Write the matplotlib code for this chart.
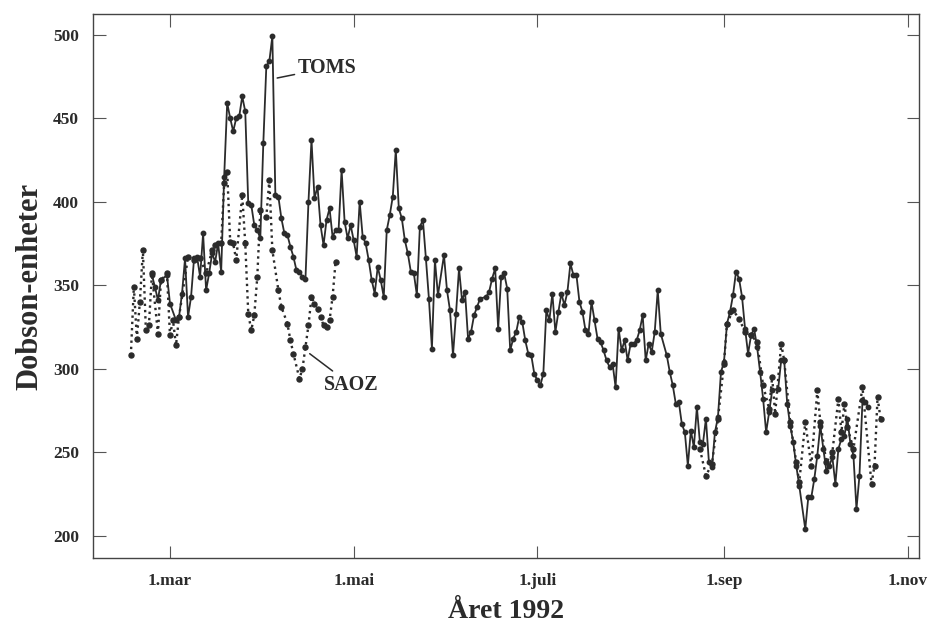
import matplotlib
matplotlib.use('Agg')
import matplotlib.pyplot as plt
import matplotlib.dates as mdates
from datetime import datetime, timedelta

plt.rcParams['font.family'] = ['Liberation Serif', 'DejaVu Serif']
plt.rcParams['font.weight'] = 'bold'

# total ozone 1992, day of year -> Dobson units
toms_day = [55, 56, 57, 58, 60, 61, 63, 64, 65, 66, 67, 68, 69, 70, 71, 72, 73, 74, 75, 76, 77, 78, 79,
            80, 81, 82, 83, 84, 85, 86, 87, 88, 89, 90, 91, 92, 93, 94, 95, 96, 97, 98, 99, 100,
            101, 102, 103, 104, 105, 106, 107, 108, 109, 110, 111, 112, 113, 114, 115, 116, 117,
            118, 119, 120, 121, 122, 123, 124, 125, 126, 127, 128, 129, 130, 131, 132, 133, 134,
            135, 136, 137, 138, 139, 140, 141, 142, 143,
            144, 145, 146, 147, 148, 149, 150, 152, 153, 154, 155, 156, 157, 158, 159, 160, 161,
            162, 163, 164, 166, 167, 168, 169, 170, 171, 172, 173, 174, 175, 176, 177, 178, 179,
            180, 181, 182, 183, 184, 185, 186, 187, 188, 189, 190, 191, 192, 193, 194, 195, 196,
            197, 198, 199, 200, 201, 202, 203, 204, 205, 206, 207, 208, 209, 210, 211, 212, 213,
            214, 215, 216, 217, 218, 219, 220, 221, 222, 223, 224, 226, 227, 228, 229, 230, 231,
            232, 233, 234, 235, 236, 237, 238, 239, 240, 241, 242, 243, 244, 245, 246, 247, 248,
            249, 250, 251, 252, 253, 254, 255, 256, 257, 258, 259, 260, 261, 263, 264, 265, 266,
            267, 268, 269, 270, 272, 273, 274, 275, 276, 277, 278, 279, 280, 281, 282, 283, 284,
            285, 286, 287, 288, 289, 290, 291, 292, 293]
toms_val = [356, 349, 341, 353, 356, 339, 329, 331, 345, 366, 331, 343, 366, 367, 355, 381, 347, 357, 369, 364, 375, 358, 415,
            459, 450, 442, 450, 451, 463, 454, 399, 398, 386, 383, 378, 435, 481, 484, 499, 404, 403, 390, 381, 380,
            373, 367, 359, 358, 355, 354, 400, 437, 402, 409, 386, 374, 389, 396, 379, 383, 383,
            419, 388, 378, 386, 377, 367, 400, 379, 375, 365, 353, 345, 361, 353, 343, 383, 392,
            403, 431, 396, 390, 377, 369, 358, 357, 344,
            385, 389, 366, 342, 312, 365, 344, 368, 347, 335, 308, 333, 360, 341, 346, 318, 322,
            332, 337, 342, 343, 346, 354, 360, 324, 355, 357, 348, 311, 318, 322, 331, 328, 317,
            309, 308, 297, 293, 290, 297, 335, 329, 345, 322, 334, 345, 338, 346, 363, 356, 356,
            340, 334, 323, 321, 340, 329, 318, 316, 311, 305, 301, 303, 289, 324, 311, 317, 305,
            315, 315, 317, 323, 332, 305, 315, 310, 322, 347, 321, 308, 298, 290, 279, 280, 267,
            262, 242, 263, 253, 277, 256, 255, 270, 244, 241, 262, 271, 298, 304, 327, 334, 344,
            358, 354, 343, 324, 309, 320, 324, 313, 298, 282, 262, 274, 287, 288, 305, 305, 279,
            266, 256, 242, 230, 204, 223, 223, 234, 248, 266, 252, 239, 242, 247, 231, 252, 258,
            260, 270, 255, 248, 216, 236, 281, 280, 277]

saoz_day = [48, 49, 50, 51, 52, 53, 54, 55, 57, 58, 60, 61, 62, 63, 64, 67, 69, 71, 73, 75, 76, 78, 79,
            80, 81, 82, 83, 85, 86, 87, 88, 89, 90, 91, 93, 94, 95, 97, 98, 100, 101, 102, 104,
            105, 106, 107, 108, 109, 110, 111, 112, 113, 114, 115, 116,
            None,
            237, 239, 241, 243, 245, 246, 248, 250, 252, 254, 256, 258, 260, 261, 262, 264, 265,
            267, 269, 270, 272, 274, 276, 277, 279, 281, 283, 284, 285, 286, 288, 291, 294, 295,
            296, 297]
saoz_val = [308, 349, 318, 340, 371, 323, 326, 357, 321, 353, 357, 320, 329, 314, 331, 367, 365, 366, 357, 371, 374, 375, 411,
            418, 376, 375, 365, 404, 375, 333, 323, 332, 355, 395, 391, 413, 371, 347, 337, 327, 317, 309, 294,
            300, 313, 326, 343, 339, 336, 331, 326, 325, 329, 343, 364,
            None,
            252, 236, 243, 270, 303, 327, 335, 330, 322, 320, 316, 290, 276, 295, 273, 315, 305,
            268, 244, 232, 268, 242, 287, 268, 244, 250, 282, 262, 279, 265, 252, 289, 231, 242,
            283, 270]

tick_days = [61, 122, 183, 245, 306]
tick_labels = ['1.mar', '1.mai', '1.juli', '1.sep', '1.nov']

# fig config
ink = '#2b2b2b'
fsize_tick = 12.5
fsize_xlabel = 20
fsize_ylabel = 22
fsize_note = 14.5


def doy(d):
    if d is None: return None
    return datetime(1992, 1, 1) + timedelta(days=d - 1)


def to_num(days):
    return [mdates.date2num(doy(d)) if d is not None else float('nan') for d in days]


def to_val(vals):
    return [v if v is not None else float('nan') for v in vals]


fig = plt.figure(figsize=(9.29, 6.30), dpi=100)
ax = fig.add_axes([0.100, 0.114, 0.889, 0.864])

ax.plot(to_num(toms_day), toms_val, '-o', color=ink, lw=1.3, ms=3.2, zorder=3)
ax.plot(to_num(saoz_day), to_val(saoz_val), ':o', color=ink, lw=1.7, ms=3.6, zorder=2)

ax.set_xlim(mdates.date2num(doy(35.4)), mdates.date2num(doy(309.7)))
ax.set_ylim(186.6, 512.4)
ax.set_xticks(to_num(tick_days))
ax.set_xticklabels(tick_labels)
ax.set_yticks([200, 250, 300, 350, 400, 450, 500])

ax.tick_params(direction='in', length=9, width=0.8, color='#555555',
               top=True, right=True, labelsize=fsize_tick, labelcolor=ink)
ax.tick_params(axis='x', pad=11)
ax.tick_params(axis='y', pad=10)
for lab in ax.get_xticklabels() + ax.get_yticklabels():
    lab.set_fontweight('bold')
for sp in ax.spines.values():
    sp.set_color('#444444')
    sp.set_linewidth(1.0)

ax.set_xlabel('Året 1992', fontsize=fsize_xlabel, fontweight='bold', color=ink, labelpad=7)
ax.set_ylabel('Dobson-enheter', fontsize=fsize_ylabel, fontweight='bold', color=ink, labelpad=6)

# series labels with pointer lines
ax.annotate('TOMS', xy=(mdates.date2num(doy(96.6)), 474), xytext=(mdates.date2num(doy(103.3)), 480),
            fontsize=fsize_note, fontweight='bold', color=ink, va='center', ha='left',
            arrowprops=dict(arrowstyle='-', color=ink, lw=1.1, shrinkA=0, shrinkB=0))
ax.annotate('SAOZ', xy=(mdates.date2num(doy(107.4)), 309), xytext=(mdates.date2num(doy(112.3)), 290),
            fontsize=fsize_note, fontweight='bold', color=ink, va='center', ha='left',
            arrowprops=dict(arrowstyle='-', color=ink, lw=1.1, shrinkA=2, shrinkB=0))

fig.savefig('out.png', dpi=100)
